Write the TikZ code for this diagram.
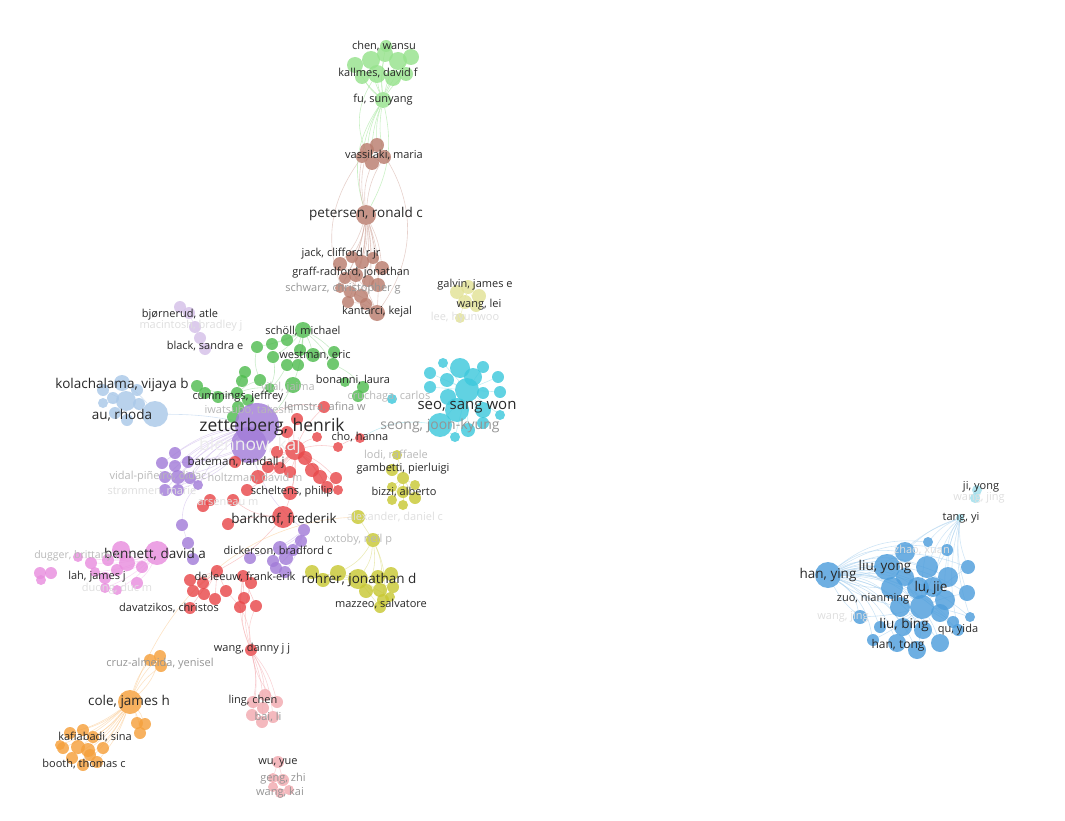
\documentclass[tikz,border=0pt]{standalone}
\usepackage{fontspec}
\setmainfont{Open Sans}
\usetikzlibrary{backgrounds}
\definecolor{cred}{RGB}{232,72,74}
\definecolor{cgreen}{RGB}{80,188,80}
\definecolor{cblue}{RGB}{78,158,220}
\definecolor{cyel}{RGB}{200,200,52}
\definecolor{cpur}{RGB}{162,124,216}
\definecolor{ccyan}{RGB}{62,200,220}
\definecolor{corange}{RGB}{245,160,60}
\definecolor{cbrown}{RGB}{185,125,110}
\definecolor{cpink}{RGB}{232,142,222}
\definecolor{cltblue}{RGB}{170,200,232}
\definecolor{cltgreen}{RGB}{150,226,140}
\definecolor{clav}{RGB}{212,192,232}
\definecolor{cltyel}{RGB}{226,226,150}
\definecolor{cltpink}{RGB}{242,170,176}
\definecolor{cltcyan}{RGB}{160,222,236}
\definecolor{labtxt}{RGB}{40,40,40}
\tikzset{
  bub/.style={circle,inner sep=0pt,draw=none,fill opacity=0.82},
  lab/.style={inner sep=0pt,text=labtxt,font=\fontsize{11}{13}\selectfont},
  labm/.style={lab,font=\fontsize{13.5}{15}\selectfont},
  labl/.style={lab,font=\fontsize{17.5}{19}\selectfont},
  dimlab/.style={text=black!42},
  greylab/.style={text=black!28},
  palelab/.style={text=black!13},
  lnk/.style={line width=0.6pt,draw opacity=0.5},
}
\begin{document}
\begin{tikzpicture}[x=1pt,y=-1pt]
\useasboundingbox (0,0) rectangle (1065,821);
\foreach \n/\x/\y/\r in {g1/355/65/8,g2/371/60/9,g3/385/54/8,g4/398/61/9,g5/411/57/8,g6/362/77/7,g7/377/74/9,g8/393/78/8,g9/406/74/7,g10/386/46/6,fu/383/100/8}
  \node[bub,fill=cltgreen,minimum size=\r*2pt] (\n) at (\x,\y) {};
\foreach \n/\x/\y/\r in {va1/367/150/7,va2/377/145/7,va3/384/157/7,va4/372/163/7,va5/362/157/6,pet/366/215/10,br1/340/264/7,br2/352/257/6,br3/362/262/7,br4/373/258/6,br5/382/268/7,br6/345/278/6,br7/356/275/7,br8/368/281/6,br9/378/285/7,br10/350/292/6,br11/361/296/7,br12/348/302/6,br13/366/304/6,br14/377/313/8,br15/340/288/5}
  \node[bub,fill=cbrown,minimum size=\r*2pt] (\n) at (\x,\y) {};
\foreach \n/\x/\y/\r in {ly1/457/292/7,ly2/468/287/7,ly3/479/296/7,ly4/465/302/7,ly5/476/306/6,ly6/460/318/5}
  \node[bub,fill=cltyel,minimum size=\r*2pt] (\n) at (\x,\y) {};
\foreach \n/\x/\y/\r in {lv1/180/307/6,lv2/189/313/6,lv3/195/327/6,lv4/200/338/6,lv5/205/349/6}
  \node[bub,fill=clav,minimum size=\r*2pt] (\n) at (\x,\y) {};
\foreach \n/\x/\y/\r in {sc1/257/347/6,sc2/272/344/6,sc3/287/340/6,sc4/303/330/8,sc5/273/357/6,sc6/287/365/6,sc7/298/365/6,sc8/313/355/7,sc9/334/352/6,sc10/333/364/6,sc11/293/385/8,sc12/300/350/6,gr1/197/386/6,gr2/205/393/6,gr3/218/397/6,gr4/237/393/6,gr5/245/372/6,gr6/242/381/6,gr7/260/380/6,gr8/270/388/5,gr9/248/400/6,gr10/238/407/6,gr11/233/417/6,bo1/345/382/5,bo2/363/387/6,bo3/358/396/6}
  \node[bub,fill=cgreen,minimum size=\r*2pt] (\n) at (\x,\y) {};
\foreach \n/\x/\y/\r in {kb1/103/390/6,kb2/113/398/6,kb3/122/383/8,kb4/126/401/10,kb5/137/390/6,kb6/115/413/6,kb7/127/420/6,kb8/103/403/5,kb9/139/404/6,au/155/414/13}
  \node[bub,fill=cltblue,minimum size=\r*2pt] (\n) at (\x,\y) {};
\foreach \n/\x/\y/\r in {zet/257/425/22,ble/249/445/18,pu1/175/453/6,pu2/162/463/6,pu3/175/466/6,pu4/188/462/6,pu5/165/477/6,pu6/178/477/7,pu7/190/478/6,pu8/165/490/6,pu9/178/490/6,pu10/198/485/5,pu11/182/525/6,pu12/188/543/6,pu13/193/559/6,pd1/304/530/6,pd2/301/541/6,pd3/280/548/7,pd4/273/561/6,pd5/286/558/7,pd6/276/568/6,pd7/285/572/6,pd8/250/558/6,pd9/293/550/6}
  \node[bub,fill=cpur,minimum size=\r*2pt] (\n) at (\x,\y) {};
\foreach \n/\x/\y/\r in {rd1/324/407/6,rd2/297/419/6,rd3/287/432/6,rd4/295/450/10,rd5/277/452/6,rd6/305/458/7,rd7/268/467/6,rd8/280/468/6,rd9/312/470/7,rd10/290/472/6,rd11/320/477/7,rd12/336/478/6,rd13/338/490/5,rd14/327/487/6,rd15/317/437/5,rd16/338/447/5,rd17/290/493/7,rd18/258/477/7,rd19/233/500/6,rd20/210/500/6,rd21/203/506/6,rd22/247/490/6,rd23/235/462/6,bark/283/517/11,rd24/228/524/6,cho/360/438/5,dl1/190/580/6,dl2/193/591/6,dl3/203/583/6,dl4/204/594/6,dl5/217/571/6,dl6/226/591/6,dl7/215/599/6,dl8/190/608/6,dl9/243/576/6,dl10/251/583/6,dl11/244/598/6,dl12/256/606/6,dl13/240/607/6,wdj/251/650/6}
  \node[bub,fill=cred,minimum size=\r*2pt] (\n) at (\x,\y) {};
\foreach \n/\x/\y/\r in {lp1/253/702/6,lp2/265/695/6,lp3/277/702/6,lp4/252/715/6,lp5/262/722/6,lp6/273/717/6,lp7/263/708/6,wy1/278/762/6,wy2/273/778/5,wy3/283/780/6,wy4/280/793/5,wy5/289/790/5,wy6/273/787/5}
  \node[bub,fill=cltpink,minimum size=\r*2pt] (\n) at (\x,\y) {};
\foreach \n/\x/\y/\r in {cole/130/702/12,oc1/150/660/6,oc2/160/656/6,oc3/161/666/6,om1/137/723/6,om2/145/724/6,om3/140/733/6,ok1/63/748/6,ok2/70/733/6,ok3/83/730/6,ok4/93/737/6,ok5/78/747/7,ok6/88/750/7,ok7/103/748/6,ok8/72/758/6,ok9/83/765/6,ok10/97/762/6,ok11/90/755/6,ok12/60/745/5}
  \node[bub,fill=corange,minimum size=\r*2pt] (\n) at (\x,\y) {};
\foreach \n/\x/\y/\r in {ben/157/553/12,pk1/121/550/9,pk2/78/557/5,pk3/91/563/6,pk4/108/560/6,pk5/127/563/8,pk6/142/567/6,pk7/95/572/5,pk8/105/578/6,pk9/117/570/6,pk10/137/583/6,pk11/105/588/5,pk12/117/590/5,pk13/40/573/6,pk14/51/573/6,pk15/41/580/5}
  \node[bub,fill=cpink,minimum size=\r*2pt] (\n) at (\x,\y) {};
\foreach \n/\x/\y/\r in {alex/358/517/7,oxt/373/540/7,yr1/312/572/7,yr2/323/580/7,yr3/338/573/8,yr4/358/579/10,yr5/366/591/7,yr6/378/577/7,yr7/391/574/7,yr8/380/590/7,yr9/393/587/6,yr10/383/600/6,yr11/380/607/6,yr12/390/597/5,yg1/397/455/5,yg2/392/470/6,yg3/403/478/6,yg4/415/485/5,yg5/392/487/5,yg6/403/492/6,yg7/415/498/6,yg8/392/500/5,yg9/403/505/5}
  \node[bub,fill=cyel,minimum size=\r*2pt] (\n) at (\x,\y) {};
\foreach \n/\x/\y/\r in {cy1/443/363/5,cy2/460/368/10,cy3/483/367/6,cy4/498/377/6,cy5/430/373/6,cy6/447/380/7,cy7/473/377/9,cy8/430/387/6,cy9/448/397/8,cy10/467/390/12,cy11/483/393/6,cy12/500/392/6,cy13/457/410/12,cy14/483/410/8,cy15/500/415/5,cy16/440/425/12,cy17/468/430/7,cy18/483/423/6,cy19/455/437/5,cruch/392/399/5}
  \node[bub,fill=ccyan,minimum size=\r*2pt] (\n) at (\x,\y) {};
\foreach \n/\x/\y/\r in {hany/828/575/13,bl1/928/542/5,bl2/947/550/6,bl3/905/552/10,bl4/927/567/11,bl5/887/567/13,bl6/948/577/10,bl7/968/567/7,bl8/905/577/9,bl9/892/588/11,bl10/918/588/11,bl11/933/587/10,bl12/945/600/10,bl13/967/593/8,bl14/900/607/10,bl15/922/607/12,bl16/940/613/9,bl17/970/617/5,bl18/953/622/6,bl19/860/617/7,bl20/873/640/6,bl21/897/643/9,bl22/917/650/9,bl23/940/643/9,bl24/903/627/9,bl25/923/630/9,bl26/958/630/6,bl27/880/627/6}
  \node[bub,fill=cblue,minimum size=\r*2pt] (\n) at (\x,\y) {};
\foreach \n/\x/\y/\r in {tang/960/518/4,ji1/977/490/5,ji2/975/498/5}
  \node[bub,fill=cltcyan,minimum size=\r*2pt] (\n) at (\x,\y) {};
\begin{pgfonlayer}{background}
\foreach \t in {g1,g2,g3,g4,g5,g6,g7,g8,g9,g10}
  \draw[lnk,cltgreen] (fu) to[bend left=8] (\t);
\foreach \t in {va1,va2,va3,va4,va5}
  \draw[lnk,cltgreen] (fu) to[bend right=10] (\t);
\draw[lnk,cltgreen] (fu) to[bend right=25] (pet);
\draw[lnk,cltgreen] (fu) to[bend left=20] (pet);
\draw[lnk,cltgreen] (g7) to[bend right=30] (va4);
\foreach \t in {va1,va3,va4,va5}
  \draw[lnk,cbrown!70] (pet) to[bend left=12] (\t);
\draw[lnk,cbrown!70] (va2) to[bend left=35] (br14);
\draw[lnk,cbrown!70] (va5) to[bend right=30] (br12);
\foreach \t in {br1,br2,br3,br4,br5,br6,br7,br8,br9,br10,br11,br12,br13,br14,br15}
  \draw[lnk,cbrown!70] (pet) to[bend left=10] (\t);
\foreach \t in {br1,br6,br10,br12}
  \draw[lnk,cbrown!70] (br14) to[bend right=15] (\t);
\foreach \t in {ly1,ly3,ly4,ly5,ly6}
  \draw[lnk,cltyel] (ly2) -- (\t);
\draw[lnk,clav] (lv1) -- (lv2) -- (lv3) -- (lv4) -- (lv5);
\foreach \t in {sc1,sc2,sc3,sc5,sc6,sc7,sc8,sc9,sc10,sc11,sc12}
  \draw[lnk,cgreen!60] (sc4) to[bend left=8] (\t);
\foreach \t in {gr1,gr2,gr3,gr5,gr6,gr7,gr8,gr9}
  \draw[lnk,cgreen!60] (gr4) to[bend left=10] (\t);
\draw[lnk,cgreen!60] (gr7) to[bend left=15] (sc1);
\draw[lnk,cgreen!60] (gr8) to[bend right=15] (sc5);
\draw[lnk,cgreen!60] (gr9) to[bend right=20] (sc6);
\draw[lnk,cgreen!60] (zet) to[bend right=10] (sc11);
\draw[lnk,cgreen!60] (bo2) to[bend right=10] (sc10);
\foreach \t in {kb1,kb2,kb3,kb5,kb6,kb7,kb8,kb9}
  \draw[lnk,cltblue] (kb4) -- (\t);
\draw[lnk,cltblue] (au) to[bend left=10] (kb4);
\draw[lnk,cltblue] (au) to[bend right=10] (kb3);
\draw[lnk,cltblue] (au) to[bend left=5] (zet);
\foreach \t in {pu1,pu2,pu3,pu4,pu5,pu6,pu7,pu8,pu9,pu10}
  \draw[lnk,cpur!55] (zet) to[bend right=12] (\t);
\foreach \t in {pu2,pu4,pu6,pu8,pu9}
  \draw[lnk,cpur!55] (ble) to[bend left=10] (\t);
\draw[lnk,cpur!55] (pu11) -- (pu12) -- (pu13);
\draw[lnk,cpur!55] (pu11) to[bend left=20] (pu10);
\foreach \t in {pd2,pd3,pd4,pd5,pd6,pd7,pd8,pd9}
  \draw[lnk,cpur!55] (pd1) to[bend left=10] (\t);
\draw[lnk,cpur!55] (ble) to[bend right=15] (pd1);
\foreach \t in {rd1,rd2,rd3,rd5,rd6,rd7,rd8,rd9,rd10,rd11,rd12,rd13,rd14,rd15,rd16,rd17,rd18,rd22,rd23,bark}
  \draw[lnk,cred!55] (rd4) to[bend left=10] (\t);
\draw[lnk,cred!55] (rd16) to[bend left=10] (cho);
\draw[lnk,cred!55] (zet) to[bend left=20] (rd1);
\draw[lnk,cred!55] (bark) to[bend left=15] (rd19);
\draw[lnk,cred!55] (bark) to[bend right=10] (rd24);
\draw[lnk,cred!55] (rd20) -- (rd21);
\draw[lnk,cred!55] (bark) to[bend left=10] (dl5);
\foreach \t in {dl1,dl2,dl3,dl4,dl6,dl7,dl8}
  \draw[lnk,cred!55] (dl5) -- (\t);
\foreach \t in {dl10,dl11,dl12,dl13}
  \draw[lnk,cred!55] (dl9) -- (\t);
\foreach \t in {dl9,dl10,dl12,dl11}
  \draw[lnk,cred!45] (wdj) to[bend left=15] (\t);
\draw[lnk,cred!45] (wdj) to[bend right=20] (dl6);
\foreach \t in {lp1,lp2,lp3,lp4,lp5,lp6}
  \draw[lnk,cltpink] (wdj) to[bend left=12] (\t);
\draw[lnk,cltpink] (wdj) to[bend right=15] (lp3);
\draw[lnk,cltpink] (wy1) -- (wy2) -- (wy4);
\draw[lnk,cltpink] (wy1) -- (wy3) -- (wy5);
\draw[lnk,ccyan!50,draw opacity=0.6] (cho) to[bend left=18] (cy16);
\foreach \t in {cy1,cy2,cy3,cy4,cy5,cy6,cy7,cy8,cy9,cy11,cy12,cy13,cy14,cy15,cy16,cy17,cy18,cy19}
  \draw[lnk,ccyan!60] (cy10) -- (\t);
\draw[lnk,ccyan!60] (cy13) -- (cy16) -- (cy19);
\foreach \t in {oc1,oc2,oc3,om1,om2,om3,ok1,ok2,ok3,ok4,ok5,ok6,ok7,ok8,ok9,ok10,ok11,ok12}
  \draw[lnk,corange!60] (cole) to[bend left=10] (\t);
\draw[lnk,corange!60] (cole) .. controls (170,590) and (250,522) .. (alex);
\draw[lnk,corange!60] (cole) to[bend right=15] (oc2);
\foreach \t in {pk1,pk2,pk3,pk4,pk5,pk6,pk7,pk8,pk9,pk10,pk11,pk12}
  \draw[lnk,cpink!60] (ben) to[bend left=10] (\t);
\draw[lnk,cpink!60] (pk13) -- (pk14) -- (pk15) -- (pk13);
\draw[lnk,cyel!70] (alex) -- (oxt);
\foreach \t in {yr3,yr4,yr5,yr8,yr10}
  \draw[lnk,cyel!70] (oxt) to[bend left=15] (\t);
\foreach \t in {yr1,yr2,yr3,yr5,yr6,yr7,yr8,yr9,yr10,yr11,yr12}
  \draw[lnk,cyel!70] (yr4) -- (\t);
\foreach \t in {yg1,yg2,yg4,yg5,yg6,yg7,yg8,yg9}
  \draw[lnk,cyel!70] (yg3) -- (\t);
\foreach \t in {bl1,bl2,bl3,bl4,bl5,bl6,bl7,bl8,bl9,bl10,bl11,bl12,bl13,bl14,bl15,bl16,bl17,bl18,bl19,bl20,bl21,bl22,bl23,bl24,bl25,bl26,bl27}
  \draw[lnk,cblue!55] (hany) to[bend left=22] (\t);
\foreach \t in {bl3,bl5,bl9,bl14,bl19}
  \draw[lnk,cblue!55] (hany) to[bend right=10] (\t);
\foreach \t in {bl1,bl2,bl3,bl4,bl6,bl7,bl12,bl13,bl17,bl26,bl11,bl5}
  \draw[lnk,cblue!50] (tang) to[bend right=12] (\t);
\foreach \t in {bl1,bl2,bl3,bl5,bl6,bl7,bl8,bl9,bl10,bl12,bl13,bl14,bl16,bl17,bl18,bl19,bl20,bl21,bl22,bl23,bl24,bl25,bl26,bl27}
  \draw[lnk,cblue!55] (bl15) to[bend left=6] (\t);
\draw[lnk,cltcyan] (ji1) -- (ji2);
\end{pgfonlayer}
\node[lab] (l-chen) at (384,46) {chen, wansu};
\node[lab] (l-kall) at (378,73) {kallmes, david f};
\node[lab] (l-fu) at (fu) {fu, sunyang};
\node[lab] (l-vass) at (384,155) {vassilaki, maria};
\node[labm] (l-pet) at (366,214) {petersen, ronald c};
\node[lab] (l-jack) at (341,254) {jack, clifford r jr};
\node[lab] (l-graff) at (351,273) {graff-radford, jonathan};
\node[lab,dimlab] (l-schw) at (343,289) {schwarz, christopher g};
\node[lab] (l-kant) at (377,312) {kantarci, kejal};
\node[lab] (l-galv) at (475,285) {galvin, james e};
\node[lab] (l-wlei) at (479,305) {wang, lei};
\node[lab,palelab] (l-lee) at (465,318) {lee, hyunwoo};
\node[lab] (l-bjor) at (180,315) {bjørnerud, atle};
\node[lab,palelab] (l-maci) at (191,326) {macintosh, bradley j};
\node[lab] (l-black) at (205,346) {black, sandra e};
\node[lab] (l-scho) at (303,331) {schöll, michael};
\node[lab] (l-west) at (315,355) {westman, eric};
\node[lab] (l-bona) at (353,380) {bonanni, laura};
\node[labm] (l-kola) at (122,385) {kolachalama, vijaya b};
\node[labm] (l-au) at (122,415) {au, rhoda};
\node[lab] (l-cumm) at (238,397) {cummings, jeffrey};
\node[lab,greylab] (l-vila) at (288,388) {vilal, jaima};
\node[lab,greylab] (l-iwat) at (249,410) {iwatsubo, takeshi};
\node[lab,dimlab] (l-lems) at (325,407) {lemstra, afina w};
\node[lab,greylab] (l-cruc) at (389,397) {cruchaga, carlos};
\node[labl] (l-zet) at (272,427) {zetterberg, henrik};
\node[labl,text=black!7] (l-ble) at (250,446) {blennow, kaj};
\node[lab] (l-cho) at (360,437) {cho, hanna};
\node[labm,font=\fontsize{15}{17}\selectfont] (l-seo) at (467,407) {seo, sang won};
\node[labm,dimlab,font=\fontsize{14}{16}\selectfont] (l-seong) at (440,426) {seong, joon-kyung};
\node[lab,greylab] (l-lodi) at (396,455) {lodi, raffaele};
\node[lab] (l-gamb) at (403,469) {gambetti, pierluigi};
\node[lab,font=\fontsize{11.5}{13}\selectfont] (l-bate) at (236,463) {bateman, randall j};
\node[lab,greylab] (l-vida) at (158,477) {vidal-piñeiro, didac};
\node[lab,greylab] (l-holt) at (255,478) {holtzman, david m};
\node[lab,palelab] (l-stro) at (152,491) {strømmen, marie};
\node[lab] (l-schel) at (292,492) {scheltens, philip};
\node[lab] (l-bizz) at (404,492) {bizzi, alberto};
\node[lab,palelab] (l-arse) at (228,503) {arseneau m};
\node[labm] (l-bark) at (284,519) {barkhof, frederik};
\node[lab,palelab] (l-alex) at (395,517) {alexander, daniel c};
\node[lab,greylab] (l-oxt) at (358,540) {oxtoby, neil p};
\node[lab] (l-dick) at (278,551) {dickerson, bradford c};
\node[labm] (l-ben) at (155,554) {bennett, david a};
\node[lab,greylab,font=\fontsize{10.5}{12}\selectfont] (l-dugg) at (78,556) {dugger, brittany n};
\node[lab] (l-lah) at (97,577) {lah, james j};
\node[lab,palelab] (l-duon) at (117,589) {duong, duc m};
\node[lab] (l-leeu) at (245,577) {de leeuw, frank-erik};
\node[labm] (l-rohr) at (359,580) {rohrer, jonathan d};
\node[lab] (l-dava) at (169,608) {davatzikos, christos};
\node[lab] (l-mazz) at (381,604) {mazzeo, salvatore};
\node[lab] (l-wdj) at (252,649) {wang, danny j j};
\node[lab,dimlab] (l-cruz) at (160,664) {cruz-almeida, yenisel};
\node[labm] (l-cole) at (129,702) {cole, james h};
\node[lab] (l-ling) at (253,701) {ling, chen};
\node[lab,dimlab] (l-bai) at (268,717) {bai, li};
\node[lab] (l-kafi) at (95,737) {kafiabadi, sina};
\node[lab] (l-boot) at (84,764) {booth, thomas c};
\node[lab] (l-wu) at (278,763) {wu, yue};
\node[lab,dimlab] (l-geng) at (283,779) {geng, zhi};
\node[lab,dimlab] (l-wkai) at (280,793) {wang, kai};
\node[lab] (l-ji) at (981,487) {ji, yong};
\node[lab,palelab] (l-wjing1) at (979,498) {wang, jing};
\node[lab] (l-tang) at (961,518) {tang, yi};
\node[lab,palelab] (l-zhao) at (922,550) {zhao, xuan};
\node[labm] (l-hany) at (828,575) {han, ying};
\node[labm] (l-liuy) at (885,567) {liu, yong};
\node[labm] (l-luj) at (931,588) {lu, jie};
\node[lab] (l-zuo) at (873,599) {zuo, nianming};
\node[lab,palelab] (l-wjing2) at (843,617) {wang, jing};
\node[labm] (l-liub) at (904,625) {liu, bing};
\node[lab] (l-qu) at (958,630) {qu, yida};
\node[lab,font=\fontsize{12}{14}\selectfont] (l-hant) at (898,645) {han, tong};
\end{tikzpicture}
\end{document}
